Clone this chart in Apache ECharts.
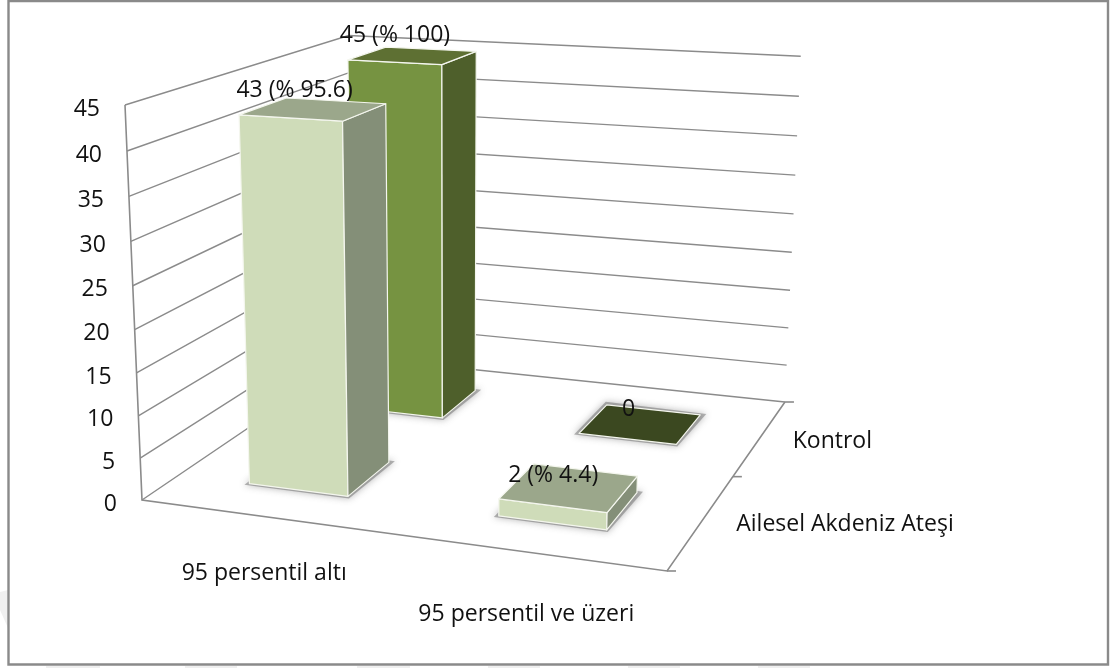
<!DOCTYPE html>
<html lang="tr">
<head>
<meta charset="utf-8">
<title>Persentil dağılımı</title>
<style>
  html, body { margin: 0; padding: 0; background: #fff; }
  #chart { width: 1113px; height: 668px; }
</style>
<script src="https://cdn.jsdelivr.net/npm/echarts@6/dist/echarts.min.js"></script>
</head>
<body>
<div id="chart"></div>
<script>
// Chart data
const categories = ['95 persentil altı', '95 persentil ve üzeri'];
const depthNames = ['Ailesel Akdeniz Ateşi', 'Kontrol'];
const aileselValues = [43, 2];
const aileselPercents = [95.6, 4.4];
const kontrolValues = [45, 0];
const kontrolPercents = [100, null];
const yTicks = [0, 5, 10, 15, 20, 25, 30, 35, 40, 45];

// Camera: projective matrix taking (across, depth, height, 1) in unit box space to the screen
const CAMERA = [
  [465, 295.7, -23.5, 142],
  [19.6, -57.3, -400.5, 500],
  [-0.09, 0.24, -0.052, 1]
];
function project(u, v, t) {
  const m = CAMERA;
  const w = m[2][0] * u + m[2][1] * v + m[2][2] * t + m[2][3];
  return [
    (m[0][0] * u + m[0][1] * v + m[0][2] * t + m[0][3]) / w,
    (m[1][0] * u + m[1][1] * v + m[1][2] * t + m[1][3]) / w
  ];
}

const FONT = '"Open Sans", "Noto Sans", sans-serif';
const FONT_SIZE = 23;
const LINE = '#8b8b8b';
const BAR_RATIO = 0.406;

// Converts an (axis category, axis value) pair into unit box space via the hidden cartesian scales
function unit(params, api, cat, value) {
  const cs = params.coordSys;
  const p = api.coord([cat, value]);
  return { u: (p[0] - cs.x) / cs.width, t: 1 - (p[1] - cs.y) / cs.height };
}

function line(points, width) {
  return {
    type: 'polyline',
    silent: true,
    shape: { points: points },
    style: { stroke: LINE, lineWidth: width || 1.4, fill: null }
  };
}

function label(text, x, y, align) {
  return {
    type: 'text',
    silent: true,
    style: {
      x: x, y: y + 2, text: text, fill: '#111',
      fontFamily: FONT, fontSize: FONT_SIZE,
      align: align || 'center', verticalAlign: 'middle'
    }
  };
}

function face(points, fill) {
  return {
    type: 'polygon',
    silent: true,
    shape: { points: points },
    style: { fill: fill, stroke: '#f4f6ee', lineWidth: 1.2, lineJoin: 'round' }
  };
}

// Left and back walls: one gridline per value tick, with the value label beside the left wall
function renderGridline(params, api) {
  const tick = api.value(1);
  const t = unit(params, api, 0, tick).t;
  const a = project(0, 0, t);
  const children = [line([a, project(0, 1, t), project(1, 1, t)])];
  children.push(label(String(tick), a[0] - 25, a[1] + 2, 'right'));
  return { type: 'group', children: children };
}

// Front and right floor edges, the left wall edge, depth ticks and the axis labels
const categoryLabelDrop = [55, 60];
const depthLabelShift = [143, 72];
function renderFrame(params, api) {
  const children = [
    line([project(0, 0, 1), project(0, 0, 0), project(1, 0, 0), project(1, 1, 0)], 1.6)
  ];
  [0, 0.5, 1].forEach(function (v) {
    const p = project(1, v, 0);
    children.push(line([p, [p[0] + 9, p[1]]], 1.6));
  });
  categories.forEach(function (name, i) {
    const p = project(unit(params, api, i, 0).u, 0, 0);
    children.push(label(name, p[0], p[1] + categoryLabelDrop[i]));
  });
  depthNames.forEach(function (name, i) {
    const p = project(1, (i + 0.5) / depthNames.length, 0);
    children.push(label(name, p[0] + depthLabelShift[i], p[1] + 2));
  });
  return { type: 'group', children: children };
}

// Soft floor shadow: the bar's footprint, pushed outward at its four corners
function nudge(p, dx, dy) { return [p[0] + dx, p[1] + dy]; }

function barRenderer(depthIndex, colors) {
  return function (params, api) {
    const cat = api.value(0);
    const value = api.value(1);
    const pos = unit(params, api, cat, value);
    const band = api.size([1, 0])[0] / params.coordSys.width;
    const half = band * BAR_RATIO / 2;
    const vMid = (depthIndex + 0.5) / depthNames.length;
    const vHalf = BAR_RATIO / depthNames.length / 2;
    const u0 = pos.u - half, u1 = pos.u + half;
    const v0 = vMid - vHalf, v1 = vMid + vHalf;
    const t = pos.t;

    const fl = project(u0, v0, 0), fr = project(u1, v0, 0);
    const br = project(u1, v1, 0), bl = project(u0, v1, 0);
    const tfl = project(u0, v0, t), tfr = project(u1, v0, t);
    const tbr = project(u1, v1, t), tbl = project(u0, v1, t);

    const children = [{
      type: 'polygon',
      silent: true,
      shape: { points: [nudge(fl, -5, 1), nudge(fr, 1, 2), nudge(br, 6, -1), nudge(bl, -1, -3)] },
      style: {
        fill: 'rgba(110,110,110,0.5)',
        shadowBlur: 7,
        shadowColor: 'rgba(70,70,70,0.75)'
      }
    }];
    if (value > 0) {
      children.push(face([fl, fr, tfr, tfl], colors.front));
      children.push(face([fr, br, tbr, tfr], colors.side));
      children.push(face([tfl, tfr, tbr, tbl], colors.top));
    } else {
      children.push(face([fl, fr, br, bl], colors.flat));
    }
    return { type: 'group', children: children };
  };
}

// Value captions sit above the centre of each bar's top face
const captionShift = {
  'Ailesel Akdeniz Ateşi': [[-19, -21], [-16, -14]],
  'Kontrol': [[-18, -22], [-12, -17]]
};
function caption(value, percent) {
  return percent === null ? String(value) : value + ' (% ' + percent + ')';
}
function captionRenderer(depthIndex, percents) {
  return function (params, api) {
    const cat = api.value(0);
    const value = api.value(1);
    const pos = unit(params, api, cat, value);
    const p = project(pos.u, (depthIndex + 0.5) / depthNames.length, pos.t);
    const s = captionShift[depthNames[depthIndex]][cat];
    return label(caption(value, percents[cat]), p[0] + s[0], p[1] + s[1]);
  };
}

const lightColors = { front: '#cfdcb9', side: '#848f78', top: '#9ba78b', flat: '#9ba78b' };
const darkColors = { front: '#769341', side: '#4e5f2b', top: '#5e7033', flat: '#3b4820' };
const pairs = function (values) { return values.map(function (v, i) { return [i, v]; }); };
const customBase = { type: 'custom', coordinateSystem: 'cartesian2d', encode: { x: 0, y: 1 }, silent: true, clip: false };

// Pale page decoration showing just outside the border
const outerMarks = [[46, 100], [185, 237], [357, 410], [488, 540], [628, 680], [758, 810]].map(function (r) {
  return {
    type: 'rect',
    silent: true,
    z: -2,
    shape: { x: r[0], y: 666, width: r[1] - r[0], height: 2 },
    style: { fill: '#efefef' }
  };
});
outerMarks.push({
  type: 'polygon',
  silent: true,
  z: -2,
  shape: { points: [[0, 592], [8, 590], [8, 628], [0, 610]] },
  style: { fill: '#f0f0f0' }
});

const chart = echarts.init(document.getElementById('chart'), null, { renderer: 'canvas' });
chart.setOption({
  animation: false,
  backgroundColor: '#fff',
  grid: { left: 0, right: 0, top: 0, bottom: 0 },
  xAxis: { type: 'category', data: categories, show: false },
  yAxis: { type: 'value', min: 0, max: 45, interval: 5, show: false },
  graphic: outerMarks.concat([{
    type: 'rect',
    silent: true,
    z: -1,
    shape: { x: 8.5, y: 1, width: 1099.5, height: 663.5 },
    style: { fill: 'none', stroke: '#8a8a8a', lineWidth: 2.4 }
  }]),
  series: [
    Object.assign({}, customBase, { name: 'grid', z: 1, data: yTicks.map(function (v) { return [0, v]; }), renderItem: renderGridline }),
    Object.assign({}, customBase, { name: 'frame', z: 1, data: [[0, 0]], renderItem: renderFrame }),
    Object.assign({}, customBase, { name: depthNames[1], z: 2, data: pairs(kontrolValues), renderItem: barRenderer(1, darkColors) }),
    Object.assign({}, customBase, { name: depthNames[0], z: 3, data: pairs(aileselValues), renderItem: barRenderer(0, lightColors) }),
    Object.assign({}, customBase, { name: 'captions-k', z: 4, data: pairs(kontrolValues), renderItem: captionRenderer(1, kontrolPercents) }),
    Object.assign({}, customBase, { name: 'captions-a', z: 4, data: pairs(aileselValues), renderItem: captionRenderer(0, aileselPercents) })
  ]
});
</script>
</body>
</html>
